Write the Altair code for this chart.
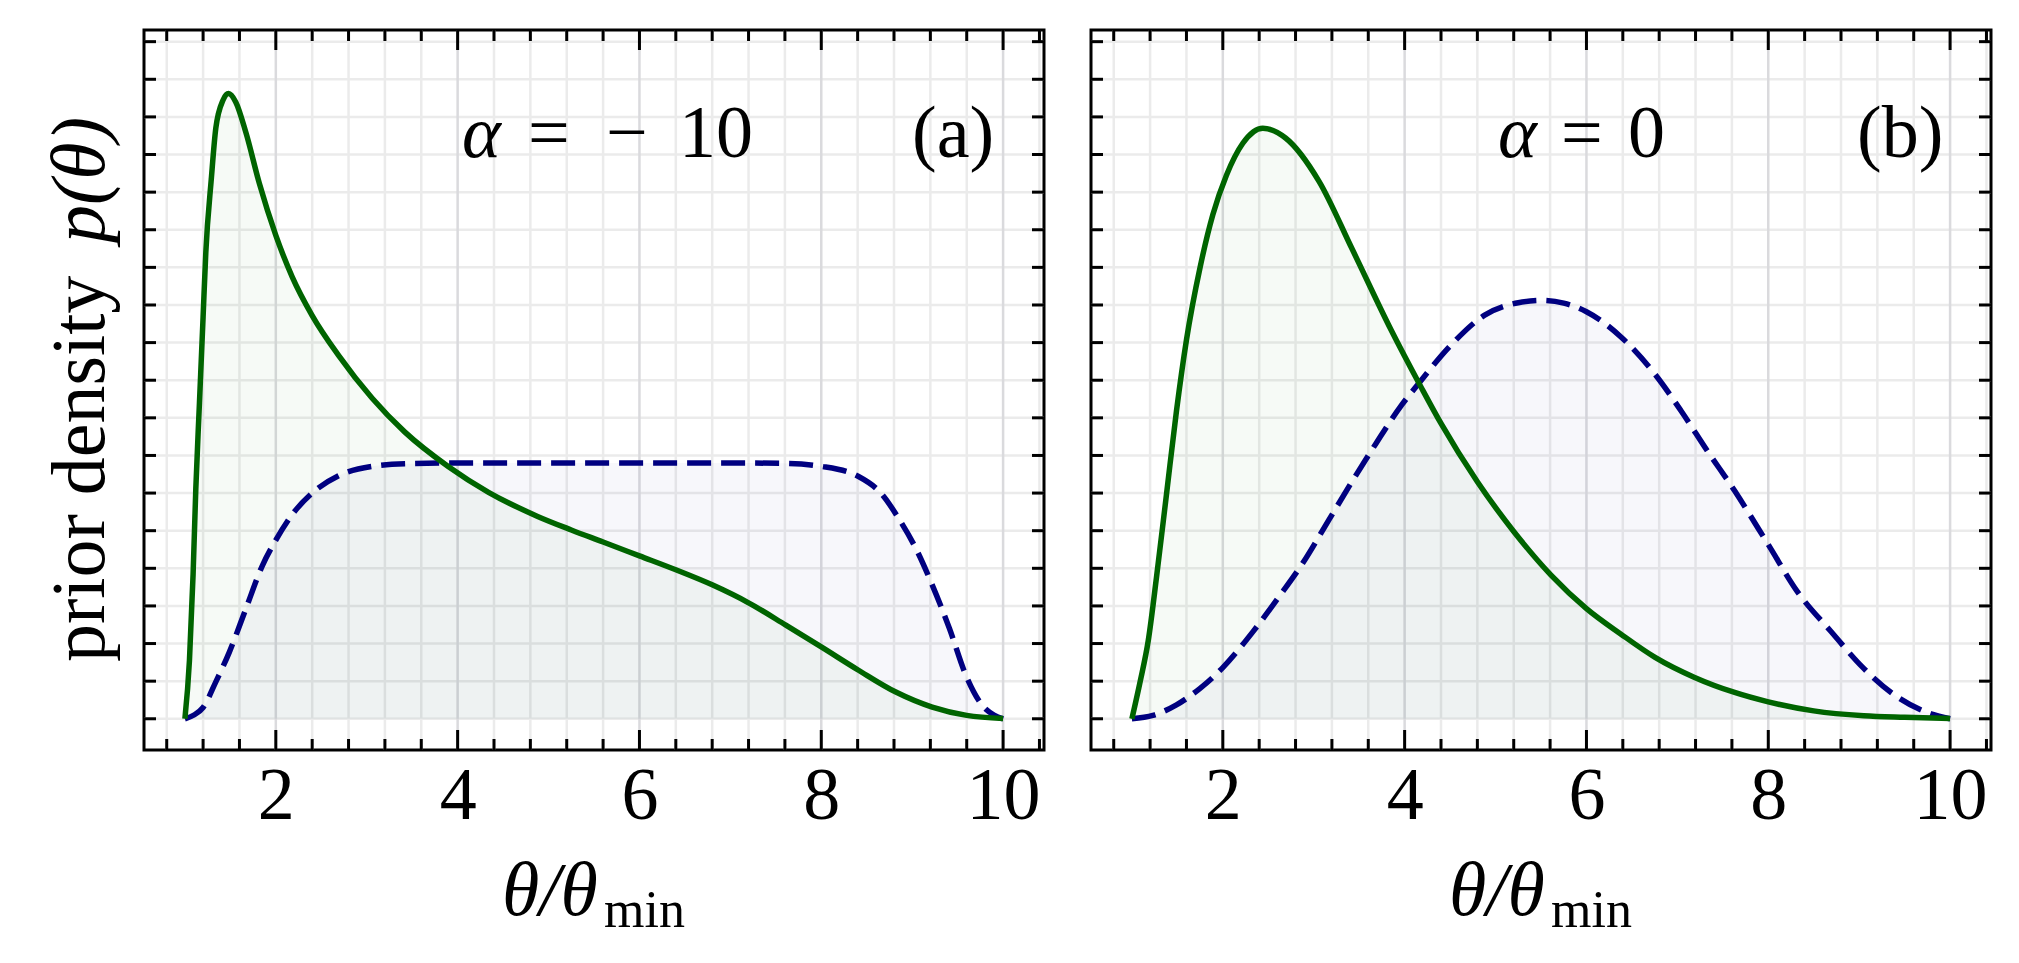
import altair as alt
import pandas as pd

FONT = "Liberation Serif"

# ---------------- data ----------------
# panel (a): alpha = -10
a_green_x = [1.0, 1.05, 1.09, 1.12, 1.16, 1.2, 1.23, 1.29, 1.34, 1.42, 1.48, 1.56, 1.67, 1.82,
             2.0, 2.18, 2.4, 2.69, 3.06, 3.42, 3.9, 4.34, 4.88, 5.25, 5.6, 6.0, 6.4, 6.8,
             7.21, 7.61, 8.0, 8.41, 8.82, 9.22, 9.6, 10.0]
a_green_y = [0.0, 1.55, 3.84, 6.12, 8.4, 10.68, 12.4, 14.34, 15.7, 16.45, 16.62, 16.39, 15.59, 14.22,
             12.85, 11.75, 10.72, 9.66, 8.52, 7.62, 6.7, 6.02, 5.38, 5.02, 4.7, 4.33, 3.96, 3.56,
             3.07, 2.49, 1.91, 1.29, 0.71, 0.31, 0.09, 0.01]
a_blue_x = [1.0, 1.1, 1.2, 1.34, 1.49, 1.67, 1.85, 2.0, 2.18, 2.4, 2.69, 3.06, 3.42, 4.0, 5.0,
            6.0, 7.0, 7.6, 8.0, 8.41, 8.67, 8.85, 9.04, 9.22, 9.41, 9.59, 9.77, 9.9, 10.0]
a_blue_y = [0.0, 0.1, 0.3, 0.98, 1.78, 2.92, 4.06, 4.75, 5.43, 6.0, 6.46, 6.71, 6.78, 6.8, 6.8,
            6.8, 6.8, 6.79, 6.71, 6.44, 5.96, 5.33, 4.53, 3.56, 2.4, 1.16, 0.36, 0.1, 0.0]

# panel (b): alpha = 0
b_green_x = [1.0, 1.09, 1.18, 1.27, 1.38, 1.49, 1.6, 1.75, 1.89, 2.04, 2.22, 2.44, 2.69, 3.06,
             3.42, 3.85, 4.18, 4.4, 4.8, 5.2, 5.61, 6.0, 6.38, 6.75, 7.19, 7.63, 8.0, 8.5,
             9.05, 9.5, 10.0]
b_green_y = [0.0, 0.98, 2.08, 3.75, 5.96, 8.18, 10.07, 12.0, 13.4, 14.45, 15.3, 15.7, 15.44, 14.28,
             12.5, 10.34, 8.82, 7.85, 6.3, 4.98, 3.82, 2.93, 2.25, 1.64, 1.1, 0.7, 0.45, 0.21,
             0.08, 0.04, 0.01]
b_blue_x = [1.0, 1.23, 1.49, 1.75, 2.0, 2.33, 2.62, 2.88, 3.17, 3.42, 3.68, 3.97, 4.15, 4.52,
            4.88, 5.25, 5.5, 5.75, 6.0, 6.38, 6.75, 7.04, 7.33, 7.63, 8.0, 8.32, 8.69, 9.05,
            9.42, 9.79, 10.0]
b_blue_y = [0.0, 0.09, 0.37, 0.81, 1.36, 2.31, 3.25, 4.14, 5.3, 6.3, 7.3, 8.35, 8.9, 9.96,
            10.73, 11.06, 11.12, 11.05, 10.82, 10.15, 9.17, 8.19, 7.12, 6.06, 4.63, 3.38, 2.32, 1.34,
            0.58, 0.13, 0.0]

x_major = [2, 4, 6, 8, 10]
x_minor = [0.8, 1.2, 1.6, 2.4, 2.8, 3.2, 3.6, 4.4, 4.8, 5.2, 5.6, 6.4, 6.8, 7.2, 7.6,
           8.4, 8.8, 9.2, 9.6, 10.4]
y_ticks = [0, 1, 2, 3, 4, 5, 6, 7, 8, 9, 10, 11, 12, 13, 14, 15, 16, 17, 18]
x_domain = [0.55, 10.45]
y_domain = [-0.83, 18.31]

panel_a_text = ["α", "=", "−", "10", "(a)"]
panel_b_text = ["α", "=", "0", "(b)"]
ytitle_text = ["prior density", "p(θ)"]
xtitle_text = ["θ/θ", "min"]

# ---------------- layout ----------------
W, H = 900, 720
GREEN = "#006400"
BLUE = "#000080"

xscale = alt.Scale(domain=x_domain, nice=False, zero=False)
yscale = alt.Scale(domain=y_domain, nice=False, zero=False)
xaxis = alt.Axis(values=x_major, format="d", labels=True, ticks=False, tickSize=0,
                 domain=False, grid=False, labelFont=FONT, labelFontSize=74,
                 labelColor="black", labelPadding=10, title=None,
                 labelFlush=False, labelOverlap=False)
X = alt.X("x:Q", scale=xscale, axis=xaxis)
Y = alt.Y("y:Q", scale=yscale, axis=None)


def txt(s, x, y, size=74, style="normal", align="left", angle=0):
    return alt.Chart(pd.DataFrame({"t": [s]})).mark_text(
        font=FONT, fontSize=size, fontStyle=style, align=align,
        baseline="alphabetic", color="black", angle=angle
    ).encode(text="t:N", x=alt.value(x), y=alt.value(y))


def panel(gx, gy, bx, by, texts):
    green = pd.DataFrame({"x": gx, "y": gy})
    blue = pd.DataFrame({"x": bx, "y": by})
    dmin = pd.DataFrame({"x": x_minor})
    dmaj = pd.DataFrame({"x": x_major})
    dy = pd.DataFrame({"y": y_ticks})

    grid_minor = alt.Chart(dmin).mark_rule(color="#ebebeb", strokeWidth=2.5).encode(x=X)
    grid_major = alt.Chart(dmaj).mark_rule(color="#dadadd", strokeWidth=2.5).encode(x=X)
    grid_y = alt.Chart(dy).mark_rule(color="#ebebeb", strokeWidth=2.5).encode(y=Y)

    area_g = alt.Chart(green).mark_area(color=GREEN, opacity=0.035, interpolate="monotone").encode(
        x=X, y=Y, y2=alt.datum(0))
    area_b = alt.Chart(blue).mark_area(color=BLUE, opacity=0.03, interpolate="monotone").encode(
        x=X, y=Y, y2=alt.datum(0))
    line_b = alt.Chart(blue).mark_line(color=BLUE, strokeWidth=5.5, strokeDash=[24, 10],
                                       interpolate="monotone").encode(x=X, y=Y)
    line_g = alt.Chart(green).mark_line(color=GREEN, strokeWidth=5.5,
                                        interpolate="monotone").encode(x=X, y=Y)

    tk = dict(color="black", strokeWidth=3)
    t_bmaj = alt.Chart(dmaj).mark_rule(**tk).encode(x=X, y=alt.value(H), y2=alt.value(H - 20))
    t_bmin = alt.Chart(dmin).mark_rule(**tk).encode(x=X, y=alt.value(H), y2=alt.value(H - 11))
    t_tmaj = alt.Chart(dmaj).mark_rule(**tk).encode(x=X, y=alt.value(0), y2=alt.value(20))
    t_tmin = alt.Chart(dmin).mark_rule(**tk).encode(x=X, y=alt.value(0), y2=alt.value(11))
    t_l = alt.Chart(dy).mark_rule(**tk).encode(y=Y, x=alt.value(0), x2=alt.value(12))
    t_r = alt.Chart(dy).mark_rule(**tk).encode(y=Y, x=alt.value(W), x2=alt.value(W - 12))

    xt1 = txt(xtitle_text[0], 358, 885, size=76, style="italic")
    xt2 = txt(xtitle_text[1], 460, 897, size=52)

    layers = [grid_minor, grid_y, grid_major, area_g, area_b, line_b, line_g,
              t_bmaj, t_bmin, t_tmaj, t_tmin, t_l, t_r, xt1, xt2] + texts
    return alt.layer(*layers).properties(width=W, height=H)


texts_a = [
    txt(panel_a_text[0], 318, 127, style="italic"),
    txt(panel_a_text[1], 384, 127),
    txt(panel_a_text[2], 462, 127),
    txt(panel_a_text[3], 535, 127),
    txt(panel_a_text[4], 768, 127),
    txt(ytitle_text[0], -40, 632, size=76, angle=270),
    txt(ytitle_text[1], -40, 213, size=76, style="italic", angle=270),
]
texts_b = [
    txt(panel_b_text[0], 407, 127, style="italic"),
    txt(panel_b_text[1], 470, 127),
    txt(panel_b_text[2], 537, 127),
    txt(panel_b_text[3], 766, 127),
]

left = panel(a_green_x, a_green_y, a_blue_x, a_blue_y, texts_a)
right = panel(b_green_x, b_green_y, b_blue_x, b_blue_y, texts_b)

chart = alt.hconcat(left, right, spacing=41).properties(
    padding={"left": 33, "top": 19, "right": 10, "bottom": 10}
).configure(background="white").configure_view(stroke="black", strokeWidth=3)

chart.save("out.html", embed_options={"renderer": "svg", "actions": False})
